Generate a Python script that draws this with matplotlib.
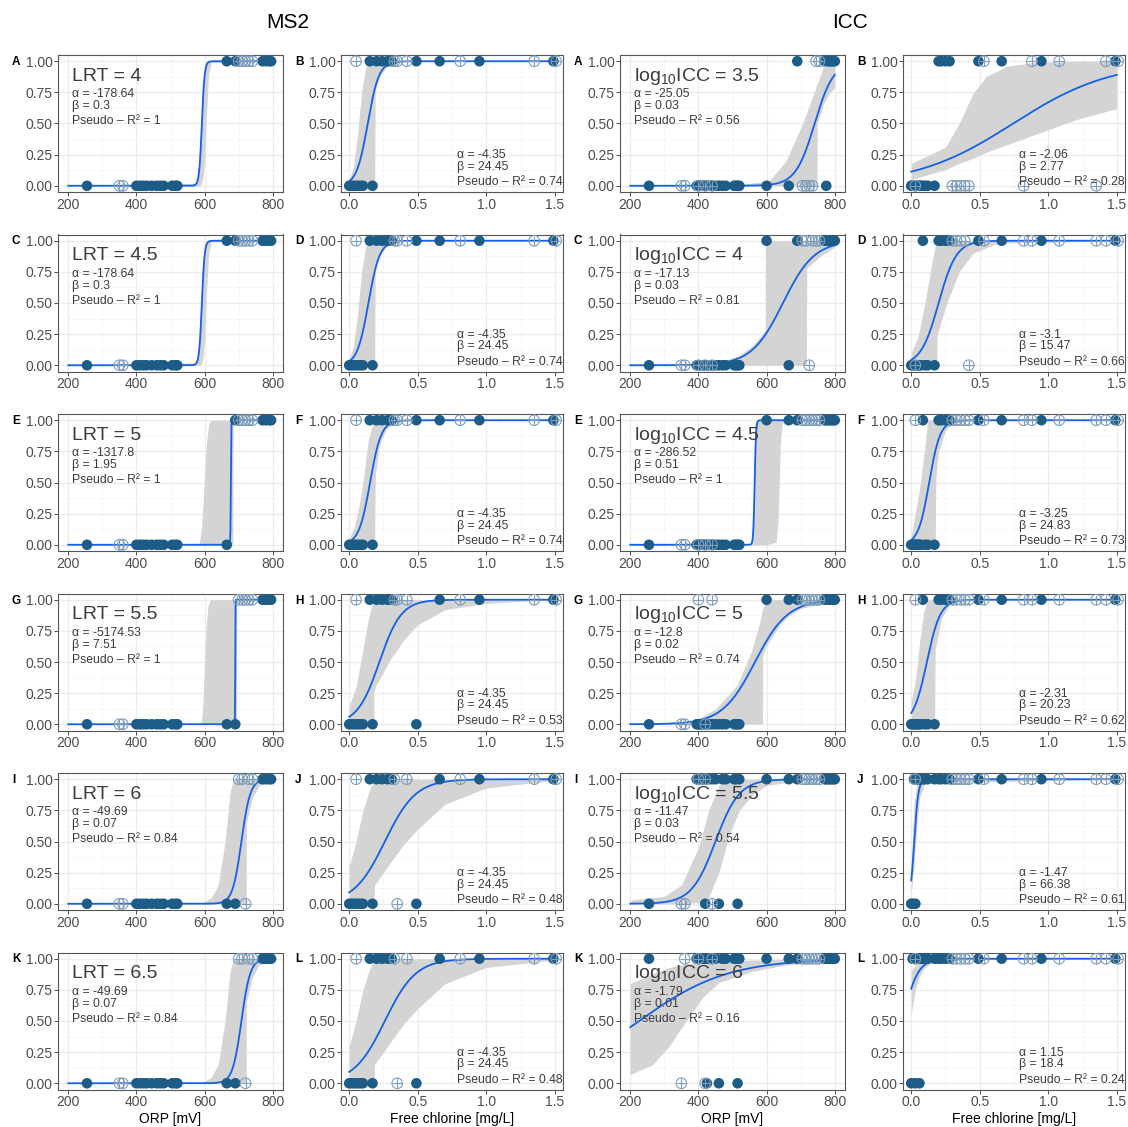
import matplotlib
matplotlib.use("Agg")
import matplotlib.pyplot as plt
import numpy as np

plt.rcParams["font.family"] = ["Liberation Sans", "DejaVu Sans"]
plt.rcParams["mathtext.fontset"] = "custom"
plt.rcParams["mathtext.rm"] = "Liberation Sans"
plt.rcParams["mathtext.it"] = "Liberation Sans:italic"
plt.rcParams["mathtext.bf"] = "Liberation Sans:bold"

# ---------------- data ----------------
LETTERS_ORP = ["A", "C", "E", "G", "I", "K"]
LETTERS_CL = ["B", "D", "F", "H", "J", "L"]

LRT_VALUES = ["4", "4.5", "5", "5.5", "6", "6.5"]
ICC_VALUES = ["3.5", "4", "4.5", "5", "5.5", "6"]

# column 1: MS2 vs ORP
MS2_ORP_ALPHA = ["-178.64", "-178.64", "-1317.8", "-5174.53", "-49.69", "-49.69"]
MS2_ORP_BETA = ["0.3", "0.3", "1.95", "7.51", "0.07", "0.07"]
MS2_ORP_R2 = ["1", "1", "1", "1", "0.84", "0.84"]
MS2_ORP_MID = [592, 592, 677, 690, 708, 708]
MS2_ORP_SCALE = [4, 4, 0.6, 0.3, 13, 13]
MS2_ORP_BAND_X = [
    [200, 575, 585, 590, 595, 600, 605, 612, 620, 800],
    [200, 575, 585, 590, 595, 600, 605, 612, 620, 800],
    [200, 583, 590, 596, 600, 605, 612, 618, 683, 683.5, 800],
    [200, 590, 596, 600, 605, 610, 617, 694, 694.5, 800],
    [200, 590, 620, 640, 660, 675, 685, 722, 722.5, 740, 760, 800],
    [200, 590, 620, 640, 660, 675, 685, 722, 722.5, 740, 760, 800],
]
MS2_ORP_BAND_LO = [
    [0, 0, 0, 0.01, 0.05, 0.2, 0.55, 0.9, 0.99, 1],
    [0, 0, 0, 0.01, 0.05, 0.2, 0.55, 0.9, 0.99, 1],
    [0, 0, 0, 0, 0, 0, 0, 0, 0, 1, 1],
    [0, 0, 0, 0, 0, 0, 0, 0, 1, 1],
    [0, 0, 0, 0, 0, 0, 0, 0, 0.65, 0.85, 0.95, 0.99],
    [0, 0, 0, 0, 0, 0, 0, 0, 0.65, 0.85, 0.95, 0.99],
]
MS2_ORP_BAND_HI = [
    [0, 0.02, 0.2, 0.45, 0.8, 0.97, 1, 1, 1, 1],
    [0, 0.02, 0.2, 0.45, 0.8, 0.97, 1, 1, 1, 1],
    [0, 0, 0.1, 0.35, 0.55, 0.8, 0.97, 1, 1, 1, 1],
    [0, 0, 0.2, 0.5, 0.8, 0.95, 1, 1, 1, 1],
    [0, 0, 0.05, 0.15, 0.5, 0.9, 1, 1, 1, 1, 1, 1],
    [0, 0, 0.05, 0.15, 0.5, 0.9, 1, 1, 1, 1, 1, 1],
]
MS2_ORP_FILLED_X = [255, 400, 410, 420, 430, 445, 460, 470, 480, 505, 515, 520,
                    665, 690, 770, 780, 790, 795]
MS2_ORP_FILLED_Y = [
    [0, 0, 0, 0, 0, 0, 0, 0, 0, 0, 0, 0, 1, 1, 1, 1, 1, 1],
    [0, 0, 0, 0, 0, 0, 0, 0, 0, 0, 0, 0, 1, 1, 1, 1, 1, 1],
    [0, 0, 0, 0, 0, 0, 0, 0, 0, 0, 0, 0, 0, 1, 1, 1, 1, 1],
    [0, 0, 0, 0, 0, 0, 0, 0, 0, 0, 0, 0, 0, 0, 1, 1, 1, 1],
    [0, 0, 0, 0, 0, 0, 0, 0, 0, 0, 0, 0, 0, 0, 1, 1, 1, 1],
    [0, 0, 0, 0, 0, 0, 0, 0, 0, 0, 0, 0, 0, 0, 1, 1, 1, 1],
]
MS2_ORP_OPEN_X = [350, 360, 700, 710, 720, 730, 740]
MS2_ORP_OPEN_Y = [
    [0, 0, 1, 1, 1, 1, 1],
    [0, 0, 1, 1, 1, 1, 1],
    [0, 0, 1, 1, 1, 1, 1],
    [0, 0, 1, 1, 1, 1, 1],
    [0, 0, 1, 1, 0, 1, 1],
    [0, 0, 1, 1, 0, 1, 1],
]

# column 2: MS2 vs free chlorine
MS2_CL_ALPHA = ["-4.35"] * 6
MS2_CL_BETA = ["24.45"] * 6
MS2_CL_R2 = ["0.74", "0.74", "0.74", "0.53", "0.48", "0.48"]
MS2_CL_MID = [0.135, 0.14, 0.152, 0.22, 0.26, 0.26]
MS2_CL_SCALE = [0.041, 0.041, 0.041, 0.08, 0.113, 0.113]
MS2_CL_BAND_X = [
    [0, 0.03, 0.06, 0.09, 0.12, 0.14, 0.185, 0.19, 0.22, 0.27, 0.35, 1.5],
    [0, 0.03, 0.06, 0.09, 0.12, 0.14, 0.185, 0.19, 0.22, 0.27, 0.35, 1.5],
    [0, 0.04, 0.07, 0.1, 0.14, 0.18, 0.185, 0.19, 0.22, 0.27, 0.33, 0.4, 1.5],
    [0, 0.05, 0.1, 0.14, 0.17, 0.179, 0.18, 0.19, 0.25, 0.3, 0.4, 0.5, 0.7, 1.0, 1.3, 1.5],
    [0, 0.05, 0.1, 0.15, 0.18, 0.185, 0.25, 0.3, 0.4, 0.5, 0.7, 1.0, 1.5],
    [0, 0.05, 0.1, 0.15, 0.18, 0.185, 0.25, 0.3, 0.4, 0.5, 0.7, 1.0, 1.5],
]
MS2_CL_BAND_LO = [
    [0, 0, 0, 0, 0, 0, 0, 0.76, 0.88, 0.95, 1, 1],
    [0, 0, 0, 0, 0, 0, 0, 0.76, 0.88, 0.95, 1, 1],
    [0, 0, 0, 0, 0, 0, 0, 0.55, 0.8, 0.93, 0.98, 0.995, 1],
    [0, 0, 0, 0, 0, 0, 0.25, 0.3, 0.42, 0.52, 0.68, 0.8, 0.92, 0.97, 0.99, 1],
    [0, 0, 0, 0, 0, 0.15, 0.25, 0.33, 0.48, 0.6, 0.8, 0.93, 0.99],
    [0, 0, 0, 0, 0, 0.15, 0.25, 0.33, 0.48, 0.6, 0.8, 0.93, 0.99],
]
MS2_CL_BAND_HI = [
    [0.05, 0.15, 0.4, 0.75, 0.95, 1, 1, 1, 1, 1, 1, 1],
    [0.05, 0.15, 0.4, 0.75, 0.95, 1, 1, 1, 1, 1, 1, 1],
    [0.05, 0.15, 0.3, 0.5, 0.85, 1, 1, 1, 1, 1, 1, 1, 1],
    [0.15, 0.3, 0.6, 0.85, 0.97, 0.99, 1, 1, 1, 1, 1, 1, 1, 1, 1, 1],
    [0.3, 0.5, 0.75, 0.92, 0.99, 1, 1, 1, 1, 1, 1, 1, 1],
    [0.3, 0.5, 0.75, 0.92, 0.99, 1, 1, 1, 1, 1, 1, 1, 1],
]
MS2_CL_FILLED_X = [0.0, 0.02, 0.04, 0.06, 0.08, 0.1, 0.17, 0.15, 0.2, 0.24, 0.28, 0.31,
                   0.49, 0.66, 0.95, 1.49]
MS2_CL_FILLED_Y = [
    [0, 0, 0, 0, 0, 0, 0, 1, 1, 1, 1, 1, 1, 1, 1, 1],
    [0, 0, 0, 0, 0, 0, 0, 1, 1, 1, 1, 1, 1, 1, 1, 1],
    [0, 0, 0, 0, 0, 0, 0, 1, 1, 1, 1, 1, 1, 1, 1, 1],
    [0, 0, 0, 0, 0, 0, 0, 1, 1, 1, 1, 1, 0, 1, 1, 1],
    [0, 0, 0, 0, 0, 0, 0, 1, 1, 1, 1, 1, 0, 1, 1, 1],
    [0, 0, 0, 0, 0, 0, 0, 1, 1, 1, 1, 1, 0, 1, 1, 1],
]
MS2_CL_OPEN_X = [0.05, 0.33, 0.35, 0.42, 0.81, 1.35, 1.51]
MS2_CL_OPEN_Y = [
    [1, 1, 1, 1, 1, 1, 1],
    [1, 1, 1, 1, 1, 1, 1],
    [1, 1, 1, 1, 1, 1, 1],
    [1, 1, 1, 1, 1, 1, 1],
    [1, 1, 0, 1, 1, 1, 1],
    [1, 1, 0, 1, 1, 1, 1],
]

# column 3: ICC vs ORP
ICC_ORP_ALPHA = ["-25.05", "-17.13", "-286.52", "-12.8", "-11.47", "-1.79"]
ICC_ORP_BETA = ["0.03", "0.03", "0.51", "0.02", "0.03", "0.01"]
ICC_ORP_R2 = ["0.56", "0.81", "1", "0.74", "0.54", "0.16"]
ICC_ORP_MID = [741, 648, 565, 566, 450, 226]
ICC_ORP_SCALE = [28, 46, 2, 48, 35, 130]
ICC_ORP_BAND_X = [
    [200, 500, 550, 608, 657, 706, 741, 748, 748.5, 766, 786, 800],
    [200, 440, 480, 520, 560, 596, 596.5, 640, 717, 717.5, 760, 800],
    [200, 550, 558, 562, 566, 570, 600, 628, 634, 640, 646, 800],
    [200, 375, 449, 513, 555, 582, 588, 588.5, 598, 620, 640, 660, 700, 800],
    [200, 300, 350, 400, 430, 460, 490, 520, 560, 600, 700, 800],
    [200, 266, 315, 364, 413, 461, 560, 658, 800],
]
ICC_ORP_BAND_LO = [
    [0, 0, 0, 0, 0, 0, 0, 0, 0.5, 0.65, 0.75, 0.79],
    [0, 0, 0, 0, 0, 0, 0, 0, 0, 0.78, 0.88, 0.95],
    [0, 0, 0, 0, 0, 0, 0, 0.02, 0.2, 0.8, 0.98, 1],
    [0, 0, 0, 0, 0, 0, 0, 0.55, 0.62, 0.72, 0.8, 0.86, 0.93, 0.99],
    [0, 0, 0, 0.01, 0.05, 0.25, 0.55, 0.75, 0.88, 0.95, 0.99, 1],
    [0.07, 0.15, 0.3, 0.5, 0.69, 0.81, 0.9, 0.95, 0.98],
]
ICC_ORP_BAND_HI = [
    [0, 0.01, 0.02, 0.04, 0.2, 0.5, 0.76, 0.82, 0.82, 0.95, 0.99, 0.99],
    [0, 0.01, 0.04, 0.08, 0.16, 0.28, 1, 1, 1, 1, 1, 1],
    [0, 0, 0.05, 0.5, 0.97, 1, 1, 1, 1, 1, 1, 1],
    [0, 0.01, 0.12, 0.31, 0.58, 0.84, 0.93, 0.93, 0.98, 1, 1, 1, 1, 1],
    [0.03, 0.06, 0.15, 0.45, 0.75, 0.95, 1, 1, 1, 1, 1, 1],
    [0.8, 0.88, 0.93, 0.96, 0.97, 0.98, 0.99, 0.995, 1],
]
ICC_ORP_FILLED_X = [255, 395, 400, 405, 410, 415, 420, 425, 430, 440, 450, 460, 470, 480,
                    505, 510, 515, 520, 600, 665, 690, 770, 775, 780, 785, 790, 795, 800]
ICC_ORP_FILLED_Y = [
    [0, 0, 0, 0, 0, 0, 0, 0, 0, 0, 0, 0, 0, 0, 0, 0, 0, 0, 0, 0, 1, 1, 0, 1, 1, 1, 1, 1],
    [0, 0, 0, 0, 0, 0, 0, 0, 0, 0, 0, 0, 0, 0, 0, 0, 0, 0, 1, 0, 1, 1, 1, 1, 1, 1, 1, 1],
    [0, 0, 0, 0, 0, 0, 0, 0, 0, 0, 0, 0, 0, 0, 0, 0, 0, 0, 1, 1, 1, 1, 1, 1, 1, 1, 1, 1],
    [0, 0, 0, 0, 0, 0, 0, 0, 0, 0, 0, 0, 0, 0, 0, 0, 0, 0, 1, 1, 1, 1, 1, 1, 1, 1, 1, 1],
    [0, 1, 1, 1, 1, 1, 0, 1, 1, 1, 1, 0, 1, 1, 1, 1, 0, 1, 1, 1, 1, 1, 1, 1, 1, 1, 1, 1],
    [1, 1, 1, 1, 1, 1, 1, 0, 1, 1, 1, 0, 1, 1, 1, 1, 0, 1, 1, 1, 1, 1, 1, 1, 1, 1, 1, 1],
]
ICC_ORP_OPEN_X = [350, 360, 400, 420, 440, 705, 715, 725, 735, 745, 755]
ICC_ORP_OPEN_Y = [
    [0, 0, 0, 0, 0, 0, 0, 0, 0, 1, 1],
    [0, 0, 0, 0, 0, 1, 1, 0, 1, 1, 1],
    [0, 0, 0, 0, 0, 1, 1, 1, 1, 1, 1],
    [0, 0, 1, 0, 1, 1, 1, 1, 1, 1, 1],
    [0, 0, 1, 1, 0, 1, 1, 1, 1, 1, 1],
    [0, 1, 1, 0, 1, 1, 1, 1, 1, 1, 1],
]

# column 4: ICC vs free chlorine
ICC_CL_ALPHA = ["-2.06", "-3.1", "-3.25", "-2.31", "-1.47", "1.15"]
ICC_CL_BETA = ["2.77", "15.47", "24.83", "20.23", "66.38", "18.4"]
ICC_CL_R2 = ["0.28", "0.66", "0.73", "0.62", "0.61", "0.24"]
ICC_CL_MID = [0.744, 0.2, 0.131, 0.114, 0.022, -0.0625]
ICC_CL_SCALE = [0.361, 0.0646, 0.0403, 0.0494, 0.015, 0.0543]
ICC_CL_BAND_X = [
    [0, 0.25, 0.35, 0.45, 0.55, 0.7, 0.9, 1.2, 1.5],
    [0, 0.05, 0.1, 0.15, 0.18, 0.185, 0.19, 0.26, 0.35, 0.45, 0.63, 1.5],
    [0, 0.06, 0.1, 0.12, 0.175, 0.18, 0.2, 0.25, 0.3, 0.4, 1.5],
    [0, 0.03, 0.06, 0.09, 0.12, 0.17, 0.175, 0.22, 0.28, 0.35, 0.45, 1.5],
    [0, 0.02, 0.04, 0.06, 0.1, 1.5],
    [0, 0.03, 0.06, 0.1, 0.15, 0.25, 1.5],
]
ICC_CL_BAND_LO = [
    [0.05, 0.13, 0.18, 0.22, 0.27, 0.33, 0.41, 0.53, 0.62],
    [0, 0, 0, 0, 0, 0, 0.25, 0.5, 0.75, 0.9, 0.98, 1],
    [0, 0, 0, 0, 0, 0.55, 0.75, 0.92, 0.97, 0.995, 1],
    [0.02, 0.02, 0.03, 0.03, 0.03, 0.03, 0.6, 0.85, 0.96, 0.99, 0.998, 1],
    [0.08, 0.3, 0.6, 0.85, 0.97, 1],
    [0.56, 0.75, 0.86, 0.93, 0.97, 0.99, 1],
]
ICC_CL_BAND_HI = [
    [0.18, 0.31, 0.5, 0.74, 0.88, 0.96, 0.99, 1, 1],
    [0.1, 0.23, 0.5, 0.82, 0.98, 1, 1, 1, 1, 1, 1, 1],
    [0.07, 0.44, 0.79, 1, 1, 1, 1, 1, 1, 1, 1],
    [0.18, 0.35, 0.65, 0.9, 1, 1, 1, 1, 1, 1, 1, 1],
    [0.35, 0.8, 0.97, 1, 1, 1],
    [0.9, 0.95, 0.98, 0.99, 1, 1, 1],
]
ICC_CL_FILLED_X = [0.0, 0.01, 0.02, 0.03, 0.04, 0.05, 0.06, 0.07, 0.085, 0.1, 0.12, 0.17,
                   0.2, 0.22, 0.25, 0.28, 0.49, 0.66, 0.95, 1.49]
ICC_CL_FILLED_Y = [
    [0, 0, 0, 0, 0, 0, 0, 0, 0, 0, 0, 0, 1, 1, 1, 1, 1, 1, 1, 1],
    [0, 0, 0, 0, 0, 0, 0, 0, 1, 0, 0, 0, 1, 1, 1, 1, 1, 1, 1, 1],
    [0, 0, 0, 0, 0, 0, 0, 0, 1, 0, 0, 0, 1, 1, 1, 1, 1, 1, 1, 1],
    [0, 0, 0, 0, 0, 0, 0, 0, 1, 0, 0, 0, 1, 1, 1, 1, 1, 1, 1, 1],
    [0, 0, 1, 0, 1, 1, 1, 1, 1, 1, 1, 1, 1, 1, 1, 1, 1, 1, 1, 1],
    [0, 1, 1, 0, 1, 1, 0, 1, 1, 1, 1, 1, 1, 1, 1, 1, 1, 1, 1, 1],
]
ICC_CL_OPEN_X = [0.03, 0.3, 0.33, 0.36, 0.39, 0.42, 0.53, 0.82, 0.88, 1.08, 1.35, 1.42, 1.51]
ICC_CL_OPEN_Y = [
    [0, 0, 0, 0, 0, 0, 1, 0, 1, 1, 0, 1, 1],
    [0, 1, 1, 1, 1, 0, 1, 1, 1, 1, 1, 1, 1],
    [1, 1, 1, 1, 1, 1, 1, 1, 1, 1, 1, 1, 1],
    [1, 1, 1, 1, 1, 1, 1, 1, 1, 1, 1, 1, 1],
    [1, 1, 1, 1, 1, 1, 1, 1, 1, 1, 1, 1, 1],
    [1, 1, 1, 1, 1, 1, 1, 1, 1, 1, 1, 1, 1],
]

# ---------------- style ----------------
FILL_COL = "#1D5C87"
OPEN_COL = "#7F9EBB"
LINE_COL = "#1560E8"
BAND_COL = "#D4D4D4"
TEXT_COL = "#3C3C3C"
TICK_COL = "#4D4D4D"

W, H = 1128, 1127
COL_X = [(58, 283), (341, 563), (620, 845), (903, 1125)]
ROW_TOP, ROW_H, ROW_STEP = 55, 137, 179.5


def expit(z):
    return 1.0 / (1.0 + np.exp(-z))


def draw_panel(ax, kind, mid, scale, bx, blo, bhi, fx, fy, ox, oy):
    if kind == "orp":
        xlim = (170, 830)
        xg = np.linspace(200, 800, 600)
        ax.set_xticks([200, 400, 600, 800])
        ax.set_xticks([300, 500, 700], minor=True)
    else:
        xlim = (-0.06, 1.56)
        xg = np.linspace(0, 1.5, 600)
        ax.set_xticks([0.0, 0.5, 1.0, 1.5])
        ax.set_xticklabels(["0.0", "0.5", "1.0", "1.5"])
        ax.set_xticks([0.25, 0.75, 1.25], minor=True)
    ax.set_xlim(*xlim)
    ax.set_ylim(-0.05, 1.05)
    ax.set_yticks([0, 0.25, 0.5, 0.75, 1.0])
    ax.set_yticklabels(["0.00", "0.25", "0.50", "0.75", "1.00"])
    ax.set_yticks([0.125, 0.375, 0.625, 0.875], minor=True)
    ax.grid(True, which="major", color="#EBEBEB", lw=0.9, zorder=0)
    ax.grid(True, which="minor", color="#F4F4F4", lw=0.5, zorder=0)
    ax.set_axisbelow(True)
    ax.tick_params(which="major", length=3, width=0.6, color="#333333",
                   labelsize=10, labelcolor=TICK_COL, pad=1)
    ax.tick_params(which="minor", length=0)
    for sp in ax.spines.values():
        sp.set_color("#555555")
        sp.set_linewidth(0.8)

    ax.fill_between(bx, blo, bhi, color=BAND_COL, lw=0, zorder=1)
    ax.plot(xg, expit((xg - mid) / scale), color=LINE_COL, lw=1.3, zorder=2)
    ax.scatter(fx, fy, s=58, color=FILL_COL, edgecolors="none", zorder=3)
    ax.scatter(ox, oy, s=58, facecolors="none", edgecolors=OPEN_COL, linewidths=0.8, zorder=4)
    ax.scatter(ox, oy, s=58, marker="+", color=OPEN_COL, linewidths=0.8, zorder=4)


fig = plt.figure(figsize=(W / 100, H / 100), dpi=100)

columns = [
    ("orp", MS2_ORP_MID, MS2_ORP_SCALE, MS2_ORP_BAND_X, MS2_ORP_BAND_LO, MS2_ORP_BAND_HI,
     MS2_ORP_FILLED_X, MS2_ORP_FILLED_Y, MS2_ORP_OPEN_X, MS2_ORP_OPEN_Y,
     MS2_ORP_ALPHA, MS2_ORP_BETA, MS2_ORP_R2, LETTERS_ORP),
    ("cl", MS2_CL_MID, MS2_CL_SCALE, MS2_CL_BAND_X, MS2_CL_BAND_LO, MS2_CL_BAND_HI,
     MS2_CL_FILLED_X, MS2_CL_FILLED_Y, MS2_CL_OPEN_X, MS2_CL_OPEN_Y,
     MS2_CL_ALPHA, MS2_CL_BETA, MS2_CL_R2, LETTERS_CL),
    ("orp", ICC_ORP_MID, ICC_ORP_SCALE, ICC_ORP_BAND_X, ICC_ORP_BAND_LO, ICC_ORP_BAND_HI,
     ICC_ORP_FILLED_X, ICC_ORP_FILLED_Y, ICC_ORP_OPEN_X, ICC_ORP_OPEN_Y,
     ICC_ORP_ALPHA, ICC_ORP_BETA, ICC_ORP_R2, LETTERS_ORP),
    ("cl", ICC_CL_MID, ICC_CL_SCALE, ICC_CL_BAND_X, ICC_CL_BAND_LO, ICC_CL_BAND_HI,
     ICC_CL_FILLED_X, ICC_CL_FILLED_Y, ICC_CL_OPEN_X, ICC_CL_OPEN_Y,
     ICC_CL_ALPHA, ICC_CL_BETA, ICC_CL_R2, LETTERS_CL),
]

for c, col in enumerate(columns):
    (kind, mids, scales, bxs, blos, bhis, fx, fys, ox, oys,
     alphas, betas, r2s, letters) = col
    x0, x1 = COL_X[c]
    for r in range(6):
        top = ROW_TOP + r * ROW_STEP
        ax = fig.add_axes([x0 / W, 1 - (top + ROW_H) / H, (x1 - x0) / W, ROW_H / H])
        draw_panel(ax, kind, mids[r], scales[r], bxs[r], blos[r], bhis[r],
                   fx, fys[r], ox, oys[r])

        # panel letter
        fig.text((x0 - 46) / W, 1 - (top + 7) / H, letters[r], fontsize=8.5,
                 fontweight="bold", ha="left", va="center")

        lines = ["α = " + alphas[r], "β = " + betas[r],
                 "Pseudo – R² = " + r2s[r]]
        if kind == "orp":
            if c == 0:
                big = "LRT = " + LRT_VALUES[r]
            else:
                big = r"log$_{10}$ICC = " + ICC_VALUES[r]
            ax.text(0.062, 0.845, big, transform=ax.transAxes, fontsize=14,
                    color=TEXT_COL, ha="left", va="center", zorder=6)
            for ln, yy in zip(lines, [0.712, 0.627, 0.515]):
                ax.text(0.062, yy, ln, transform=ax.transAxes, fontsize=8.8,
                        color=TEXT_COL, ha="left", va="center", zorder=6)
        else:
            for ln, yy in zip(lines, [0.268, 0.183, 0.072]):
                ax.text(0.522, yy, ln, transform=ax.transAxes, fontsize=8.8,
                        color=TEXT_COL, ha="left", va="center", zorder=6)

    # axis title under the bottom row
    fig.text((x0 + x1) / 2 / W, 1 - 1119 / H,
             "ORP [mV]" if kind == "orp" else "Free chlorine [mg/L]",
             fontsize=10, ha="center", va="center")

fig.text(288 / W, 1 - 22 / H, "MS2", fontsize=15, ha="center", va="center")
fig.text(850 / W, 1 - 22 / H, "ICC", fontsize=15, ha="center", va="center")

fig.savefig("out.png", dpi=100)
